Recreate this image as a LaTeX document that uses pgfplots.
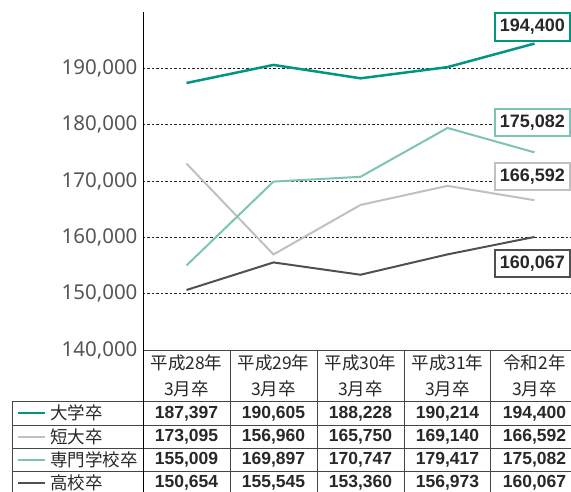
\documentclass[border=0pt]{standalone}
\usepackage{fontspec}
\setmainfont{Noto Sans CJK JP}
\newfontfamily\latin{Noto Sans}
\newfontfamily\latinb{Liberation Sans}
\usepackage{pgfplots}
\usepackage{pgfplotstable}
\pgfplotsset{compat=1.18}
\definecolor{cdai}{RGB}{0,150,128}
\definecolor{ctan}{RGB}{192,192,192}
\definecolor{csen}{RGB}{125,195,182}
\definecolor{ckou}{RGB}{80,80,80}
\definecolor{ctick}{RGB}{85,85,85}
\definecolor{ctext}{RGB}{40,40,40}
\definecolor{cline}{RGB}{70,70,70}
\pgfplotstableread{
x dai tan sen kou
0 187397 173095 155009 150654
1 190605 156960 169897 155545
2 188228 165750 170747 153360
3 190214 169140 179417 156973
4 194400 166592 175082 160067
}\data
\begin{document}
\begin{tikzpicture}
\begin{axis}[
  scale only axis, width=428pt, height=338pt,
  xmin=-0.5, xmax=4.4195, ymin=140000, ymax=200000,
  clip=false,
  axis x line*=bottom, axis y line*=left,
  axis line style={-},
  x axis line style={draw=cline, line width=0.8pt},
  y axis line style={draw=black, line width=0.8pt},
  major tick length=0pt,
  xtick={0,1,2,3,4},
  xticklabels={{平成28年\\3月卒},{平成29年\\3月卒},{平成30年\\3月卒},{平成31年\\3月卒},{令和2年\\3月卒}},
  xticklabel style={align=center, font=\fontsize{17.5}{26}\selectfont, text=ctext, anchor=north, yshift=-1.5pt},
  ytick={140000,150000,160000,170000,180000,190000},
  scaled y ticks=false,
  yticklabel style={font=\latin\fontsize{20.5}{21}\selectfont, text=ctick, anchor=east, xshift=-2pt},
  /pgf/number format/1000 sep={,},
  /pgf/number format/fixed,
  /pgf/number format/precision=0,
  /pgf/number format/assume math mode=true,
  ymajorgrids,
  grid style={dash pattern=on 2.5pt off 2pt, draw=black!85, line width=0.6pt},
  every node near coord/.style={font=\latinb\bfseries\fontsize{17.5}{18}\selectfont, text=ctext, anchor=center},
]
\addplot[ctan, line width=2pt] table[x=x, y=tan] {\data};
\addplot[csen, line width=2pt] table[x=x, y=sen] {\data};
\addplot[ckou, line width=2pt] table[x=x, y=kou] {\data};
\addplot[cdai, line width=2.5pt] table[x=x, y=dai] {\data};
% table values
\addplot[draw=none, mark=none, nodes near coords, point meta=explicit] table[x=x, y expr=128700, meta=dai] {\data};
\addplot[draw=none, mark=none, nodes near coords, point meta=explicit] table[x=x, y expr=124550, meta=tan] {\data};
\addplot[draw=none, mark=none, nodes near coords, point meta=explicit] table[x=x, y expr=120470, meta=sen] {\data};
\addplot[draw=none, mark=none, nodes near coords, point meta=explicit] table[x=x, y expr=116390, meta=kou] {\data};
% end labels
\node[draw=cdai, line width=2pt, fill=white, minimum width=75pt, minimum height=28pt, inner sep=1pt, font=\latinb\bfseries\fontsize{18}{18}\selectfont, text=ctext] at (axis cs:3.975,197330) {194,400};
\node[draw=csen, line width=2pt, fill=white, minimum width=75pt, minimum height=27pt, inner sep=1pt, font=\latinb\bfseries\fontsize{18}{18}\selectfont, text=ctext] at (axis cs:3.975,180380) {175,082};
\node[draw=ctan, line width=2pt, fill=white, minimum width=75pt, minimum height=27pt, inner sep=1pt, font=\latinb\bfseries\fontsize{18}{18}\selectfont, text=ctext] at (axis cs:3.975,170790) {166,592};
\node[draw=ckou, line width=2pt, fill=white, minimum width=75pt, minimum height=27pt, inner sep=1pt, font=\latinb\bfseries\fontsize{18}{18}\selectfont, text=ctext] at (axis cs:3.975,155350) {160,067};
\end{axis}
% table structure (origin = lower-left of plot area; 1pt = 1px)
\begin{scope}[draw=cline, line width=0.8pt]
\foreach \yy in {-51,-75,-98,-121} \draw (-131pt,\yy pt) -- (428pt,\yy pt);
\draw (-131pt,-51pt) -- (-131pt,-145pt);
\draw[black] (0pt,0pt) -- (0pt,-145pt);
\foreach \xx in {87,174,261,347} \draw (\xx pt,0pt) -- (\xx pt,-145pt);
\end{scope}
\draw[cdai, line width=2pt] (-125pt,-63pt) -- (-98pt,-63pt);
\draw[ctan, line width=2pt] (-125pt,-86.5pt) -- (-98pt,-86.5pt);
\draw[csen, line width=2pt] (-125pt,-109.5pt) -- (-98pt,-109.5pt);
\draw[ckou, line width=2pt] (-125pt,-132.5pt) -- (-98pt,-132.5pt);
\begin{scope}[every node/.style={anchor=west, font=\fontsize{17.5}{18}\selectfont, text=ctext, inner sep=0pt}]
\node at (-93pt,-63pt) {大学卒};
\node at (-93pt,-86.5pt) {短大卒};
\node at (-93pt,-109.5pt) {専門学校卒};
\node at (-93pt,-132.5pt) {高校卒};
\end{scope}
\pgfresetboundingbox
\useasboundingbox (-143pt,-141pt) rectangle (428pt,350pt);
\end{tikzpicture}
\end{document}
